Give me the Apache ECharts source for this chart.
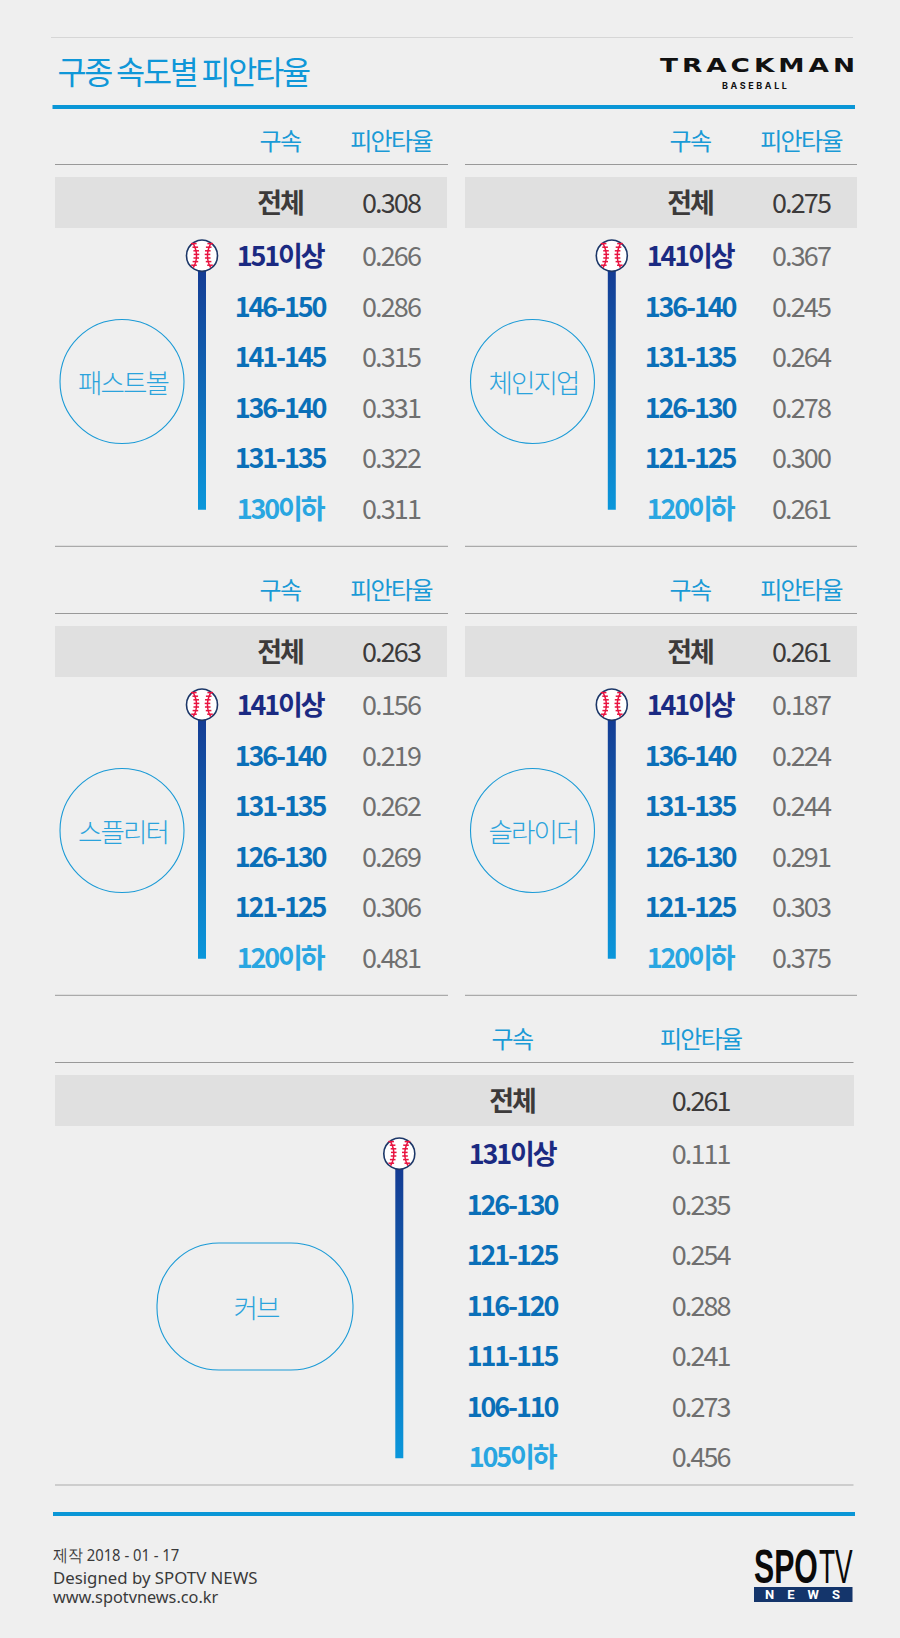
<!DOCTYPE html>
<html><head><meta charset="utf-8">
<style>
html,body{margin:0;padding:0;background:#efefef}
#c{width:900px;height:1638px}
text[style*="Noto Sans CJK"]{letter-spacing:-0.07em}
text[style*="bold"][style*="Noto Sans CJK"]{letter-spacing:-0.08em}
text[style*="DejaVu Sans"]{letter-spacing:3px}
text[style*="Inter"]{letter-spacing:2.6px}
text[style*="Roboto"]{letter-spacing:13px}
</style>
<script src="https://cdn.jsdelivr.net/npm/echarts@6/dist/echarts.min.js"></script>
</head><body><div id="c"></div>
<script>
const chartTitle='구종 속도별 피안타율';
const headers=['구속','피안타율'];
const totalLabel='전체';
const pitchNames=['패스트볼','체인지업','스플리터','슬라이더','커브'];
const totals=[0.308,0.275,0.263,0.261,0.261];
const speedsFastball=['151이상','146-150','141-145','136-140','131-135','130이하'];
const avgFastball=[0.266,0.286,0.315,0.331,0.322,0.311];
const speedsChangeup=['141이상','136-140','131-135','126-130','121-125','120이하'];
const avgChangeup=[0.367,0.245,0.264,0.278,0.300,0.261];
const speedsSplitter=['141이상','136-140','131-135','126-130','121-125','120이하'];
const avgSplitter=[0.156,0.219,0.262,0.269,0.306,0.481];
const speedsSlider=['141이상','136-140','131-135','126-130','121-125','120이하'];
const avgSlider=[0.187,0.224,0.244,0.291,0.303,0.375];
const speedsCurve=['131이상','126-130','121-125','116-120','111-115','106-110','105이하'];
const avgCurve=[0.111,0.235,0.254,0.288,0.241,0.273,0.456];
const footerLines=['제작 2018 - 01 - 17','Designed by SPOTV NEWS','www.spotvnews.co.kr'];

const KR='"Noto Sans CJK KR"';
const BLUE='#1a9ad6';
// layout (pixels)
const layouts=[
 {l:55,r:448,bw:392,dy:0,rail:202,sp:280,av:391,cx:122,cy:381.5,pw:124,ph:124,rr:62,speeds:speedsFastball,avg:avgFastball,bottom:546.3,ruleColor:'#999'},
 {l:465,r:857,bw:392,dy:0,rail:611.8,sp:690,av:801,cx:532.5,cy:381.5,pw:124,ph:124,rr:62,speeds:speedsChangeup,avg:avgChangeup,bottom:546.3,ruleColor:'#999'},
 {l:55,r:448,bw:392,dy:449,rail:202,sp:280,av:391,cx:122,cy:830.5,pw:124,ph:124,rr:62,speeds:speedsSplitter,avg:avgSplitter,bottom:995.3,ruleColor:'#999'},
 {l:465,r:857,bw:392,dy:449,rail:611.8,sp:690,av:801,cx:532.5,cy:830.5,pw:124,ph:124,rr:62,speeds:speedsSlider,avg:avgSlider,bottom:995.3,ruleColor:'#999'},
 {l:55,r:853.5,bw:799,dy:898,rail:399.3,sp:512,av:700.7,cx:255,cy:1306.5,pw:196,ph:127,rr:62,speeds:speedsCurve,avg:avgCurve,bottom:1485,ruleColor:'#c2c2c2'}
];
const ROW=50.5;
const grids=[],xAxes=[],yAxes=[],series=[],graphic=[];

function labelStyle(size,color,weight){
  return {show:true,position:'inside',align:'center',verticalAlign:'middle',offset:[0,-1],opacity:1,fontFamily:KR,fontSize:size,color:color,fontWeight:weight||'normal',
          formatter:p=>p.value[2]};
}
function textSeries(i,x,y,txt,size,color,weight){
  return {type:'scatter',xAxisIndex:i,yAxisIndex:i,symbolSize:1,itemStyle:{color:'rgba(0,0,0,0)',opacity:1},silent:true,z:5,
    data:[{value:[x,y,txt]}],label:labelStyle(size,color,weight),clip:false};
}
function addGrid(top,h,left,w,cats,bg){
  const i=grids.length;
  grids.push({left:left,top:top,width:w,height:h,show:!!bg,backgroundColor:bg||'transparent',borderWidth:0});
  xAxes.push({type:'value',gridIndex:i,min:left,max:left+w,show:false});
  yAxes.push({type:'category',gridIndex:i,data:cats,inverse:true,show:false});
  return i;
}
function speedColor(idx,n){return idx===0?'#1b2a82':(idx===n-1?'#29a6e1':'#0a6fb8');}

function renderRail(p,api){
  const a=api.coord([api.value(0),api.value(1)]);
  const b=api.coord([api.value(0),api.value(2)]);
  const seams=[];
  [-1,1].forEach(s=>{
    const pts=[];
    for(let k=-12;k<=12;k+=1){pts.push([a[0]+s*(5.5+k*k/144*3.2),a[1]+k]);}
    seams.push({type:'polyline',shape:{points:pts},style:{stroke:'#e8123f',lineWidth:1.5,fill:null}});
    for(let k=-11;k<=11;k+=3.6){
      const sx=a[0]+s*(5.5+k*k/144*3.2);
      seams.push({type:'line',shape:{x1:sx-2.8,y1:k+a[1]-1.1,x2:sx+2.8,y2:k+a[1]-1.1},style:{stroke:'#e8123f',lineWidth:1.5}});
    }
  });
  return {type:'group',children:[
    {type:'rect',shape:{x:a[0]-4,y:a[1],width:8,height:b[1]-a[1]+1.5},
     style:{fill:new echarts.graphic.LinearGradient(0,0,0,1,[{offset:0,color:'#15368f'},{offset:1,color:'#0a97db'}])}},
    {type:'circle',shape:{cx:a[0],cy:a[1],r:15.5},style:{fill:'#fff',stroke:'#1c3768',lineWidth:1.6}}
  ].concat(seams)};
}

layouts.forEach((p,n)=>{
  const w=p.r-p.l, d=p.dy;
  // header
  const hi=addGrid(120+d,40,p.l,w,['h']);
  series.push(textSeries(hi,p.sp,'h',headers[0],24,BLUE));
  series.push(textSeries(hi,p.av,'h',headers[1],24,BLUE));
  // total band
  const ti=addGrid(177+d,51,p.l,p.bw,[totalLabel],'#e0e0e0');
  series.push(textSeries(ti,p.sp,totalLabel,totalLabel,27,'#3c3a3a','bold'));
  series.push(textSeries(ti,p.av,totalLabel,totals[n].toFixed(3),27,'#3c3a3a'));
  // rows
  const k=p.speeds.length;
  const ri=addGrid(255.7+d-ROW/2,ROW*k,p.l,w,p.speeds);
  series.push({type:'custom',xAxisIndex:ri,yAxisIndex:ri,silent:true,z:3,clip:false,
    encode:{x:0,y:1},data:[[p.rail,0,k-1]],renderItem:renderRail});
  p.speeds.forEach((s,j)=>{
    series.push(textSeries(ri,p.sp,s,s,27,speedColor(j,k),'bold'));
    series.push(textSeries(ri,p.av,s,p.avg[j].toFixed(3),27,'#6f6f6f'));
  });
  // rules
  graphic.push({type:'line',shape:{x1:p.l,y1:164.5+d,x2:p.r,y2:164.5+d},style:{stroke:'#999',lineWidth:1}});
  graphic.push({type:'line',shape:{x1:p.l,y1:p.bottom,x2:p.r,y2:p.bottom},style:{stroke:p.ruleColor,lineWidth:n===4?1.5:1}});
  // pitch bubble
  graphic.push({type:'rect',shape:{x:p.cx-p.pw/2,y:p.cy-p.ph/2,width:p.pw,height:p.ph,r:p.rr},style:{fill:'none',stroke:BLUE,lineWidth:1.1}});
  graphic.push({type:'text',style:{x:p.cx+1,y:p.cy,text:pitchNames[n],fontFamily:KR,fontWeight:300,fontSize:26.5,fill:'#2ba3dc',align:'center',verticalAlign:'middle'}});
});

// page furniture
graphic.push(
 {type:'line',shape:{x1:51,y1:37.5,x2:853,y2:37.5},style:{stroke:'#d6d6d6',lineWidth:1.2}},
 {type:'text',style:{x:57.5,y:70,text:chartTitle,fontFamily:KR,fontSize:31.6,fill:'#0f97d8',align:'left',verticalAlign:'middle'}},
 {type:'rect',shape:{x:52.5,y:105,width:802.5,height:4},style:{fill:'#0a96d6'}},
 {type:'text',x:660,y:65.5,scaleX:1.32,style:{x:0,y:0,text:'TRACKMAN',fontFamily:'"DejaVu Sans"',fontWeight:'bold',fontSize:20,fill:'#111',align:'left',verticalAlign:'middle'}},
 {type:'text',style:{x:722,y:85.2,text:'BASEBALL',fontFamily:'"Inter"',fontWeight:'bold',fontSize:9,fill:'#111',align:'left',verticalAlign:'middle'}},
 {type:'rect',shape:{x:53,y:1512,width:802,height:4},style:{fill:'#0a96d6'}},
 {type:'rect',shape:{x:754,y:1587,width:98.5,height:15},style:{fill:'#14356b'}},
 {type:'text',x:754,y:1566.5,scaleX:0.63,style:{x:0,y:0,text:'SPO',fontFamily:'"Liberation Sans"',fontWeight:'bold',fontSize:48,fill:'#0a0a0a',align:'left',verticalAlign:'middle'}},
 {type:'text',x:819,y:1566.5,scaleX:0.55,style:{x:0,y:0,text:'TV',fontFamily:'"Liberation Sans"',fontSize:48,fill:'#0a0a0a',align:'left',verticalAlign:'middle'}},
 {type:'text',style:{x:809,y:1594.7,text:'NEWS',fontFamily:'"Roboto"',fontWeight:'bold',fontSize:13,fill:'#fff',align:'center',verticalAlign:'middle'}}
);
footerLines.forEach((t,i)=>{
  graphic.push({type:'text',x:53,y:[1555,1577,1596][i],scaleX:[0.88,1,0.97][i],style:{x:0,y:0,text:t,fontFamily:'"Noto Sans"',fontSize:16.8,fill:'#3a3a3a',align:'left',verticalAlign:'middle'}});
});

const chart=echarts.init(document.getElementById('c'),null,{renderer:'svg',width:900,height:1638});
chart.setOption({backgroundColor:'#efefef',animation:false,tooltip:{show:false},grid:grids,xAxis:xAxes,yAxis:yAxes,series:series,graphic:{elements:graphic}});
</script></body></html>
